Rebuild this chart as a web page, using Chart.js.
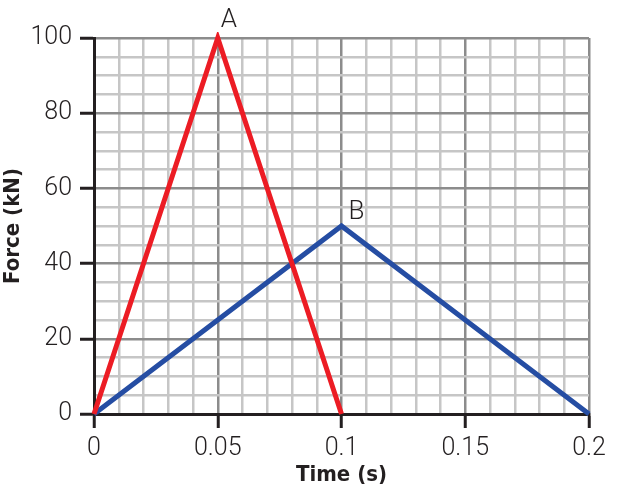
<!DOCTYPE html>
<html>
<head>
<meta charset="utf-8">
<script src="https://cdn.jsdelivr.net/npm/chart.js@4"></script>
<style>
  html, body { margin: 0; padding: 0; background: #fff; }
  #wrap { width: 619px; height: 493px; }
</style>
</head>
<body>
<div id="wrap"><canvas id="c" width="619" height="493"></canvas></div>
<script>
// datos
const tiempoA = [0, 0.05, 0.1];
const fuerzaA = [0, 100, 0];
const tiempoB = [0, 0.1, 0.2];
const fuerzaB = [0, 50, 0];
const etiquetas = [
  { serie: 0, idx: 1, texto: 'A', dx: 11, dy: -18 },
  { serie: 1, idx: 1, texto: 'B', dx: 15, dy: -14 }
];

const TXT = '#231f20';
const FUENTE = "'Roboto', 'Liberation Sans', sans-serif";
const FUENTE_TIT = "'Liberation Sans Narrow', 'DejaVu Sans Condensed', 'Roboto Condensed', 'Liberation Sans', sans-serif";

const esMayorX = v => Math.round(v * 100) % 5 === 0;
const esMayorY = v => Math.round(v) % 20 === 0;

// letras A y B junto al pico de cada serie
const etiquetasPlugin = {
  id: 'etiquetas',
  afterDatasetsDraw(chart) {
    const ctx = chart.ctx;
    ctx.save();
    ctx.font = '300 26px ' + FUENTE;
    ctx.fillStyle = TXT;
    ctx.textAlign = 'center';
    ctx.textBaseline = 'middle';
    etiquetas.forEach(e => {
      const pt = chart.getDatasetMeta(e.serie).data[e.idx];
      ctx.fillText(e.texto, pt.x + e.dx, pt.y + e.dy);
    });
    ctx.restore();
  }
};

new Chart(document.getElementById('c'), {
  type: 'line',
  data: {
    datasets: [
      { data: tiempoA.map((t, i) => ({ x: t, y: fuerzaA[i] })), borderColor: '#ec1c24', borderWidth: 5, pointRadius: 0, clip: 6 },
      { data: tiempoB.map((t, i) => ({ x: t, y: fuerzaB[i] })), borderColor: '#254da3', borderWidth: 5, pointRadius: 0, clip: 6 }
    ]
  },
  options: {
    responsive: false,
    animation: false,
    layout: { padding: { top: 38, right: 30, left: 0, bottom: 0 } },
    plugins: { legend: { display: false }, tooltip: { enabled: false } },
    scales: {
      x: {
        type: 'linear', min: 0, max: 0.2,
        afterFit: s => { s.height = 79; },
        border: { color: '#231f20', width: 3 },
        grid: {
          color: c => esMayorX(c.tick.value) ? '#8c8c8c' : '#c6c6c6',
          lineWidth: 2.5,
          tickLength: 14,
          tickColor: c => esMayorX(c.tick.value) ? '#231f20' : 'rgba(0,0,0,0)',
          tickWidth: 3
        },
        ticks: {
          stepSize: 0.01, autoSkip: false, maxRotation: 0, padding: 6,
          color: TXT, font: { family: FUENTE, size: 25, weight: '300' },
          callback: v => esMayorX(v) ? String(+v.toFixed(2)) : ''
        },
        title: { display: true, text: 'Time (s)', color: TXT, padding: { top: 0, bottom: 5 },
                 font: { family: FUENTE_TIT, size: 22, weight: 'bold' } }
      },
      y: {
        min: 0, max: 100,
        afterFit: s => { s.width = 94; },
        border: { color: '#231f20', width: 3 },
        grid: {
          color: c => esMayorY(c.tick.value) ? '#8c8c8c' : '#c6c6c6',
          lineWidth: 2.5,
          tickLength: 14,
          tickColor: c => esMayorY(c.tick.value) ? '#231f20' : 'rgba(0,0,0,0)',
          tickWidth: 3
        },
        ticks: {
          stepSize: 5, autoSkip: false, padding: 8,
          color: TXT, font: { family: FUENTE, size: 25, weight: '300' },
          callback: v => esMayorY(v) ? String(v) : ''
        },
        title: { display: true, text: 'Force (kN)', color: TXT, padding: { top: 0, bottom: 0 },
                 font: { family: FUENTE_TIT, size: 22, weight: 'bold' } }
      }
    }
  },
  plugins: [etiquetasPlugin]
});
</script>
</body>
</html>
